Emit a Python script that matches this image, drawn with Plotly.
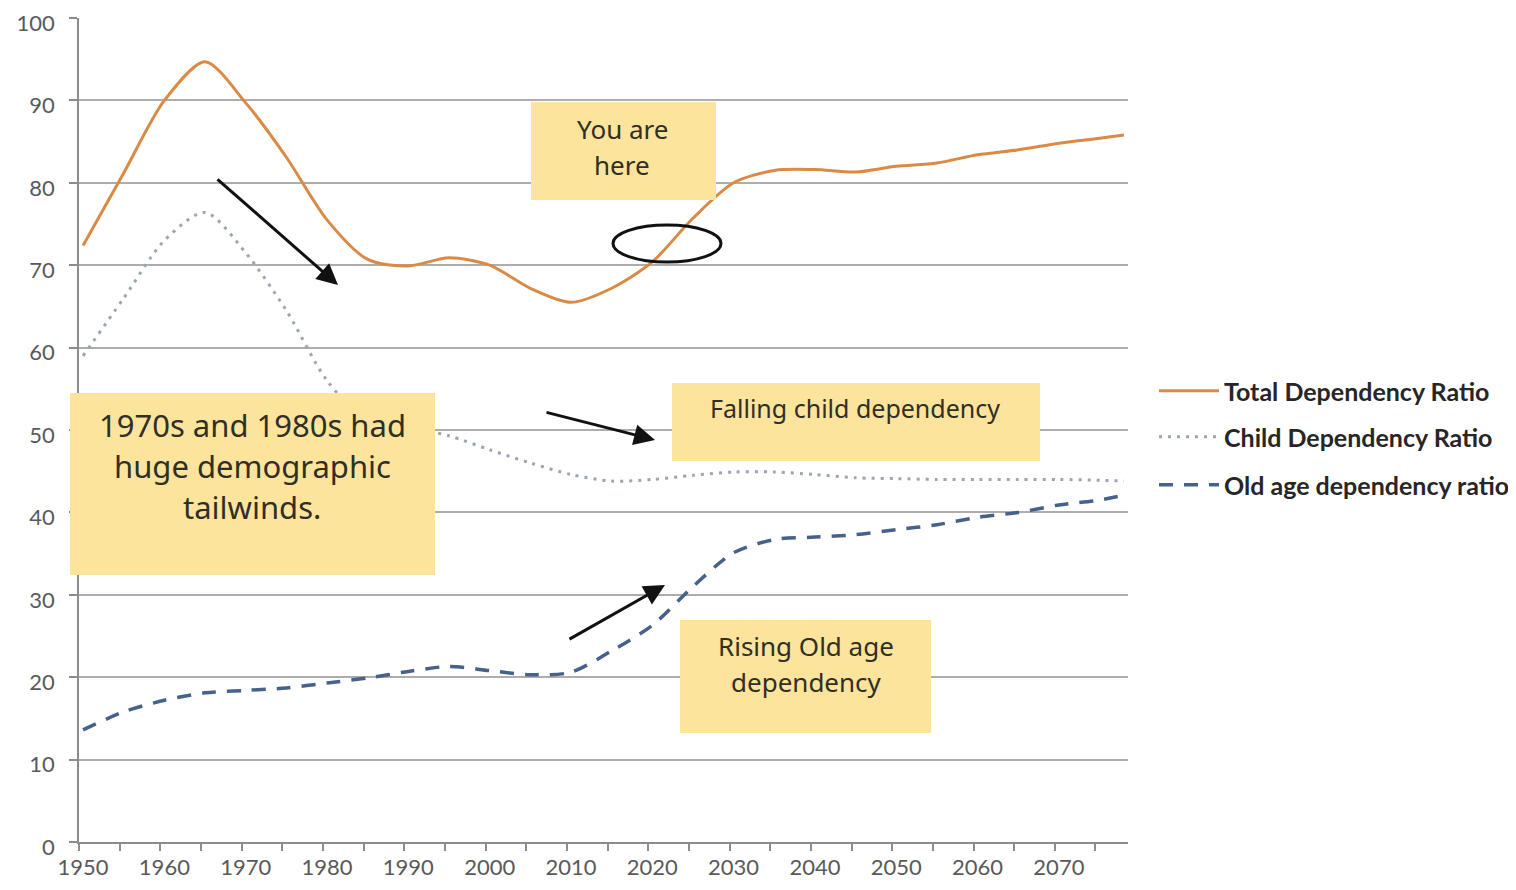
import plotly.graph_objects as go

# ---------------- data ----------------
years = [1950, 1955, 1960, 1965, 1970, 1975, 1980, 1985, 1990, 1995, 2000,
         2005, 2010, 2015, 2020, 2025, 2030, 2035, 2040, 2045, 2050, 2055,
         2060, 2065, 2070, 2075, 2078]

total_dependency = [72.4, 81.2, 90.0, 94.7, 89.7, 83.1, 75.5, 70.7, 69.9, 70.9, 70.0,
                    67.2, 65.5, 67.2, 70.4, 75.7, 80.0, 81.5, 81.6, 81.3, 82.0, 82.4,
                    83.4, 84.0, 84.8, 85.4, 85.8]

child_dependency = [59.0, 66.0, 73.0, 76.4, 71.5, 64.5, 56.0, 51.0, 50.3, 49.3, 47.6,
                    46.0, 44.6, 43.8, 44.0, 44.5, 44.9, 44.9, 44.6, 44.2, 44.1, 44.0,
                    44.0, 44.0, 44.0, 43.9, 43.8]

old_age_dependency = [13.6, 15.8, 17.2, 18.1, 18.4, 18.7, 19.3, 19.9, 20.7, 21.3, 20.8,
                      20.3, 20.6, 23.2, 26.3, 31.0, 35.1, 36.7, 37.0, 37.3, 37.9, 38.5,
                      39.4, 40.0, 40.9, 41.5, 42.1]

series_names = ["Total Dependency Ratio", "Child Dependency Ratio", "Old age dependency ratio"]

x_label_years = [1950, 1960, 1970, 1980, 1990, 2000, 2010, 2020, 2030, 2040, 2050, 2060, 2070]
y_ticks = [0, 10, 20, 30, 40, 50, 60, 70, 80, 90, 100]

# ---------------- layout helpers (reference pixel -> paper) ----------------
OFF = 8                      # page body margin
W, H = 1500, 874
L, R, T, B = 79, 1128, 18, 842   # plot area in reference pixels


def px(x):
    return (x - L) / (R - L)


def py(y):
    return (B - y) / (B - T)


ORANGE = "#DB8A45"
GREY = "#9DA4B2"
BLUE = "#46618A"
NOTE = "#FDE49C"
FOLD = "#D8C27C"
TEXT = "#2F2F25"
HAND = "Noto Sans"

fig = go.Figure()
fig.add_trace(go.Scatter(x=years, y=total_dependency, name=series_names[0], mode="lines",
                         line=dict(color=ORANGE, width=3, shape="spline", smoothing=0.8),
                         legend="legend"))
fig.add_trace(go.Scatter(x=years, y=child_dependency, name=series_names[1], mode="lines",
                         line=dict(color=GREY, width=3, dash="3px,6px", shape="spline", smoothing=0.8),
                         legend="legend2"))
fig.add_trace(go.Scatter(x=years, y=old_age_dependency, name=series_names[2], mode="lines",
                         line=dict(color=BLUE, width=3.5, dash="14px,11px", shape="spline", smoothing=0.8),
                         legend="legend3"))

shapes = []
annotations = []


def note(x0, y0, x1, y1, lines, size, line_gap, first_y, cx=None):
    shapes.append(dict(type="rect", xref="paper", yref="paper", x0=px(x0), x1=px(x1),
                       y0=py(y1), y1=py(y0), fillcolor=NOTE, line=dict(width=0), layer="above"))
    f = 22
    path = "M {},{} L {},{} L {},{} Z".format(px(x1 - f), py(y1), px(x1), py(y1 - f),
                                               px(x1 - f + 4), py(y1 - 4))
    shapes.append(dict(type="path", xref="paper", yref="paper", path=path,
                       fillcolor=FOLD, line=dict(width=0), layer="above"))
    if cx is None:
        cx = (x0 + x1) / 2
    for i, t in enumerate(lines):
        annotations.append(dict(x=px(cx), y=py(first_y + i * line_gap), xref="paper", yref="paper",
                                text=t, showarrow=False, xanchor="center", yanchor="middle",
                                font=dict(family=HAND, size=size, color=TEXT)))


note(531, 102, 716, 200, ["You are", "here"], 26, 36, 129, cx=622)
note(70, 393, 435, 575, ["1970s and 1980s had", "huge demographic", "tailwinds."], 31, 41, 425, cx=252)
note(672, 383, 1040, 461, ["Falling child dependency"], 25, 0, 408, cx=855)
note(680, 620, 931, 733, ["Rising Old age", "dependency"], 26, 36, 646, cx=806)

# "you are here" ellipse
shapes.append(dict(type="circle", xref="paper", yref="paper", x0=px(613), x1=px(721),
                   y0=py(262), y1=py(225), line=dict(color="#111111", width=3), layer="above"))


def arrow(tx, ty, hx, hy):
    annotations.append(dict(x=px(hx), y=py(hy), xref="paper", yref="paper", ax=tx - hx, ay=ty - hy,
                            showarrow=True, arrowhead=2, arrowsize=1.4, arrowwidth=3,
                            arrowcolor="#111111", text=""))


arrow(216, 178, 338, 285)
arrow(545, 412, 655, 440)
arrow(568, 640, 665, 585)

legend_common = dict(xanchor="left", yanchor="middle", bgcolor="rgba(0,0,0,0)", borderwidth=0,
                     font=dict(family="Lato", size=25, color="#262626", weight="bold"),
                     itemwidth=60, tracegroupgap=0)

fig.update_layout(
    width=W, height=H,
    margin=dict(l=L - OFF, r=W - (R - OFF), t=T - OFF, b=H - (B - OFF), autoexpand=False),
    paper_bgcolor="white", plot_bgcolor="white",
    showlegend=True,
    legend=dict(x=px(1154), y=py(391), **legend_common),
    legend2=dict(x=px(1154), y=py(437), **legend_common),
    legend3=dict(x=px(1154), y=py(485), **legend_common),
    xaxis=dict(range=[1949.5, 2078.5], tickmode="array", tickvals=x_label_years,
               ticktext=[str(v) for v in x_label_years], ticks="", showgrid=False,
               showline=True, linecolor="#8C8C8C", linewidth=1.5, zeroline=False,
               tickfont=dict(family="Lato", size=22, color="#595959"), ticklabelstandoff=5,
               minor=dict(tickmode="linear", tick0=1949.5, dtick=5, ticks="outside",
                          ticklen=7, tickcolor="#8C8C8C", tickwidth=1.5, showgrid=False)),
    yaxis=dict(range=[0, 100], tickmode="array", tickvals=y_ticks, ticks="outside", ticklen=8,
               tickcolor="#8C8C8C", tickwidth=1.5, showgrid=True, gridcolor="#ADADAD", gridwidth=2,
               showline=True, linecolor="#8C8C8C", linewidth=1.5, zeroline=False,
               tickfont=dict(family="Lato", size=22, color="#595959"), ticklabelstandoff=10,
               ticklabelshift=5, ticklabeloverflow="allow"),
    shapes=shapes,
    annotations=annotations,
)

fig.write_html("out.html")
